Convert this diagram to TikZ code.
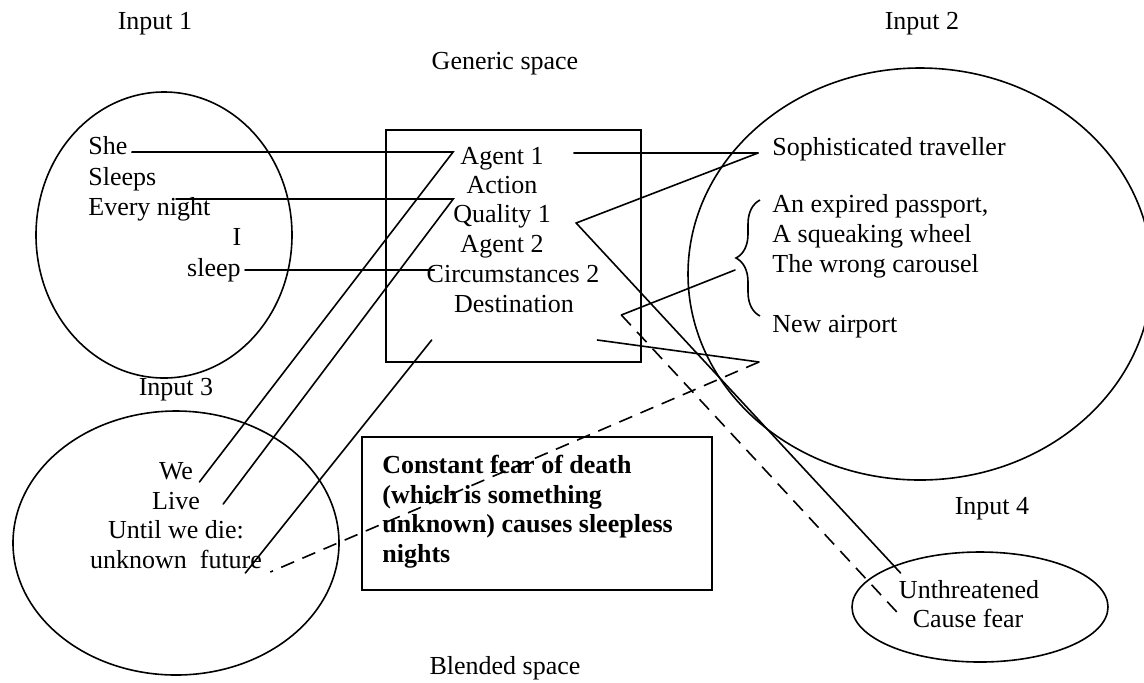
\documentclass[tikz,border=0pt]{standalone}
\usepackage{fontspec}
\setmainfont{Liberation Serif}
\usetikzlibrary{decorations.pathreplacing}

\begin{document}
\begin{tikzpicture}[x=0.5pt, y=-0.5pt,
    every node/.style={inner sep=0pt, font=\fontsize{13}{14.8}\selectfont},
    word/.style={anchor=base west},
    cword/.style={anchor=base},
    link/.style={thick, line cap=round},
    dlink/.style={thick, dash pattern=on 7pt off 4.5pt}]

  \useasboundingbox (0,0) rectangle (1144,682);

  % Ellipses
  \draw[thick] (164,235) ellipse (128 and 143);
  \draw[thick] (920,274) ellipse (232 and 206);
  \draw[thick] (176,543) ellipse (163 and 132);
  \draw[thick] (980,607) ellipse (128 and 55);
  % Boxes
  \draw[thick] (386,130) rectangle (641,362);
  \draw[thick] (362,437) rectangle (712,590);

  % Space labels
  \node[cword] (inA) at (155,29) {Input 1};
  \node[cword] (inB) at (922,29) {Input 2};
  \node[cword] (gen) at (505,69) {Generic space};
  \node[cword] (inC) at (176,395) {Input 3};
  \node[cword] (inD) at (992,514) {Input 4};
  \node[cword] (bld) at (505,674) {Blended space};

  % Input 1
  \node[word] (she) at (88,154) {She};
  \node[word] (sleeps) at (88,185) {Sleeps};
  \node[word] (night) at (88,215) {Every night};
  \node[cword] (i) at (237,245) {I};
  \node[anchor=base east] (sleep) at (241,276) {sleep};

  % Generic space
  \node[cword] (agentA) at (502,164) {Agent 1};
  \node[cword] (action) at (502,193) {Action};
  \node[cword] (qualityA) at (502,222) {Quality 1};
  \node[cword] (agentB) at (502,252) {Agent 2};
  \node[cword] (circB) at (513,282) {Circumstances 2};
  \node[cword] (dest) at (514,312) {Destination};

  % Input 2
  \node[word] (traveller) at (772,155) {Sophisticated traveller};
  \node[word] (passport) at (772,212) {An expired passport,};
  \node[word] (wheel) at (772,242) {A squeaking wheel};
  \node[word] (carousel) at (772,272) {The wrong carousel};
  \node[word] (airport) at (772,332) {New airport};
  \draw[thick, decorate, decoration={brace, amplitude=12pt}] (760,316) -- (760,200);
  \coordinate (tip) at (735,258);

  % Input 3
  \node[cword] (we) at (176,479) {We};
  \node[cword] (live) at (176,509) {Live};
  \node[cword] (until) at (176,538) {Until we die:};
  \node[cword] (future) at (176,568) {unknown~ future};

  % Input 4
  \node[cword] (unthr) at (969,598) {Unthreatened};
  \node[cword] (fear) at (968,627) {Cause fear};

  % Blended space
  \node[anchor=north west, align=left, font=\fontsize{13}{14.8}\selectfont\bfseries] (blend) at (382,455)
    {Constant fear of death\\(which is something\\unknown) causes sleepless\\nights};

  % Bend points
  \coordinate (tv) at ([shift={(-7pt,1pt)}]traveller.base west);
  \coordinate (qa) at ([shift={(12.5pt,-0.5pt)}]qualityA.base east);
  \coordinate (dr) at ([shift={(23.5pt,-1.5pt)}]dest.base east);
  \coordinate (ap) at ([shift={(-6.5pt,-15pt)}]airport.base west);

  % Connectors
  \draw[link] ([shift={(2pt,1pt)}]she.base east) -- ([shift={(-3.5pt,6pt)}]agentA.base west)
    -- ([shift={(3pt,-1.5pt)}]we.base east);
  \draw[link] ([shift={(44pt,8pt)}]night.base west) -- ([shift={(-6.5pt,-3pt)}]action.base west)
    -- ([shift={(11.5pt,2.5pt)}]live.base east);
  \draw[link] ([shift={(2pt,3pt)}]sleep.base east) -- ([shift={(4pt,6pt)}]circB.base west);
  \draw[link] ([shift={(15pt,5.5pt)}]agentA.base east) -- (tv);
  \draw[link] (tv) -- (qa) -- ([shift={(1pt,12.5pt)}]unthr.base west);
  \draw[link] ([yshift=-6pt]tip) -- (dr);
  \draw[dlink] (dr) -- ([shift={(-5pt,4.5pt)}]fear.base west);
  \draw[link] ([shift={(11.5pt,-14pt)}]dest.base east) -- (ap);
  \draw[dlink] (ap) -- ([shift={(4pt,-2pt)}]future.base east);
  \draw[link] ([shift={(-11pt,-14pt)}]dest.base west) -- ([shift={(-8.5pt,-2.5pt)}]future.base east);

\end{tikzpicture}
\end{document}
